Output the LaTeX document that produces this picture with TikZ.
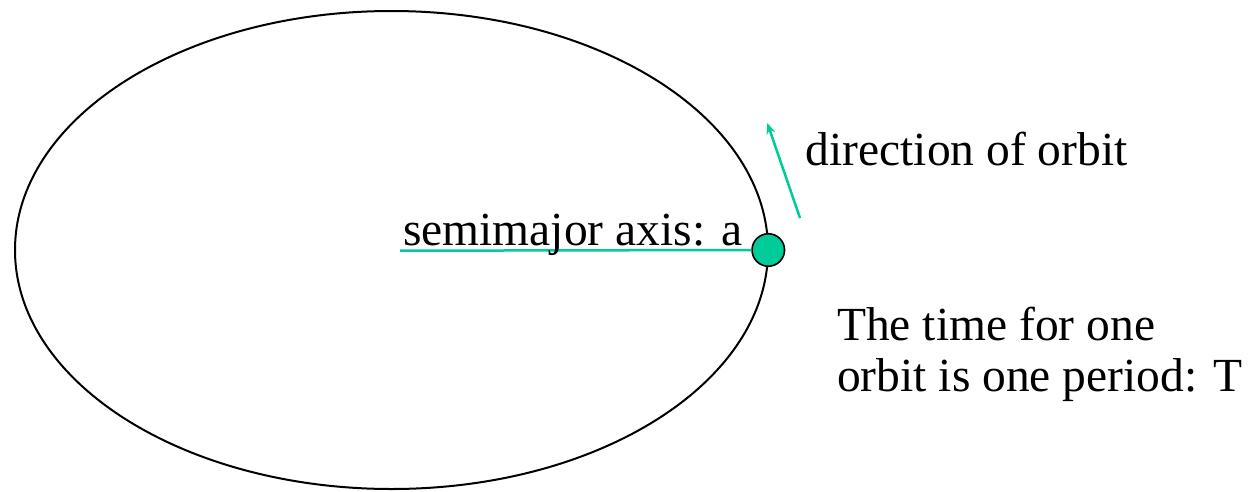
\documentclass[tikz,border=0pt]{standalone}
\usepackage{fontspec}
\setmainfont{Liberation Serif}
\usetikzlibrary{arrows.meta}
\definecolor{orbteal}{RGB}{0,204,153}
\tikzset{
  lbl/.style={anchor=base west, inner sep=0pt, font=\fontsize{47.5}{51}\selectfont},
  tealline/.style={draw=orbteal, line width=2.5pt},
}
\begin{document}
\begin{tikzpicture}[x=1pt,y=-1pt]
\useasboundingbox (0,0) rectangle (1251,491);
\draw[line width=2pt] (391.5,250) ellipse [x radius=376.5, y radius=239];
\coordinate (axstart) at (400,250.7);
\node[circle, minimum size=32.5pt, inner sep=0pt, fill=orbteal, draw=black, line width=1.6pt] (planet) at (768.3,250) {};
\draw[tealline] (axstart) -- (planet.west);
\node[lbl] (semi) at (403,245) {semimajor axis: a};
\coordinate (tail) at (800,218);
\coordinate (tip) at (767.3,123);
\draw[tealline, -{Stealth[length=11pt,width=9pt]}] (tail) -- (tip);
\node[lbl] (dir) at (805.5,165) {direction of orbit};
\node[lbl, align=left] (period) at (837,391.7) {The time for one\\orbit is one period: T};
\end{tikzpicture}
\end{document}
